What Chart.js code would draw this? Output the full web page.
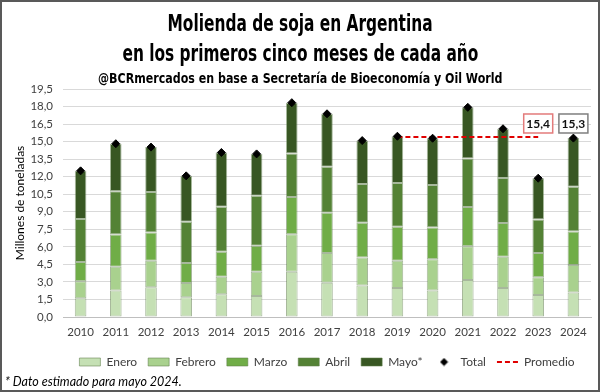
<!DOCTYPE html>
<html>
<head>
<meta charset="utf-8">
<script src="https://cdn.jsdelivr.net/npm/chart.js@4.4.1/dist/chart.umd.min.js"></script>
<style>
html, body { margin: 0; padding: 0; background: #fff; }
#wrap { position: relative; width: 600px; height: 392px; overflow: hidden; background: #fff; }
#chart { position: absolute; left: 0; top: 0; }
.t { position: absolute; left: 0; width: 600px; text-align: center; white-space: nowrap;
     font-family: "Liberation Sans Narrow", "DejaVu Sans Condensed", sans-serif; font-weight: bold; color: #000; }
.t span { display: inline-block; transform-origin: center; }
#nota { position: absolute; left: 5px; top: 374px; font: italic 12.5px Lato, sans-serif; color: #000; }
#marco { position: absolute; left: 0; top: 0; width: 600px; height: 392px; box-sizing: border-box;
         border: 2px solid #595959; pointer-events: none; }
</style>
</head>
<body>
<div id="wrap">
  <canvas id="chart" width="600" height="392"></canvas>
  <div class="t" style="top:11.5px;font-size:23px;line-height:23px"><span data-w="265">Molienda de soja en Argentina</span></div>
  <div class="t" style="top:41.5px;font-size:23px;line-height:23px"><span data-w="356">en los primeros cinco meses de cada año</span></div>
  <div class="t" style="top:71px;font-size:14.5px;line-height:14.5px"><span data-w="404">@BCRmercados en base a Secretaría de Bioeconomía y Oil World</span></div>
  <div id="nota">* Dato estimado para mayo 2024.</div>
  <div id="marco"></div>
</div>
<script>
// datos (millones de toneladas)
const anios = ['2010', '2011', '2012', '2013', '2014', '2015', '2016', '2017', '2018', '2019', '2020', '2021', '2022', '2023', '2024'];
const enero   = [1.60, 2.26, 2.55, 1.68, 1.94, 1.80, 3.86, 2.93, 2.70, 2.49, 2.26, 3.16, 2.49, 1.89, 2.09];
const febrero = [1.45, 2.03, 2.27, 1.22, 1.51, 2.06, 3.22, 2.55, 2.38, 2.33, 2.67, 2.90, 2.67, 1.50, 2.35];
const marzo   = [1.65, 2.76, 2.40, 1.71, 2.12, 2.23, 3.19, 3.43, 2.98, 2.90, 2.73, 3.34, 2.88, 2.09, 2.87];
const abril   = [3.68, 3.71, 3.48, 3.54, 3.86, 4.27, 3.71, 3.94, 3.31, 3.74, 3.62, 4.15, 3.85, 2.85, 3.83];
const mayo    = [4.12, 4.06, 3.83, 3.92, 4.64, 3.59, 4.35, 4.53, 3.72, 4.00, 4.01, 4.38, 4.21, 3.54, 4.16];
const total   = [12.50, 14.82, 14.53, 12.07, 14.07, 13.95, 18.33, 17.38, 15.09, 15.46, 15.29, 17.93, 16.10, 11.87, 15.30];
const promedio = [null, null, null, null, null, null, null, null, null, 15.4, 15.4, 15.4, 15.4, 15.4, null];
const yTicks = [0, 1.5, 3, 4.5, 6, 7.5, 9, 10.5, 12, 13.5, 15, 16.5, 18, 19.5];

// colores
const coloresMes = ['#C5E0B4', '#A9D18E', '#70AD47', '#548235', '#385723'];
const bordeBarra = 'rgba(95,125,75,0.55)';
const fuente = 'Lato, sans-serif';

const fmt = v => v.toFixed(1).replace('.', ',');

// ajustar ancho de los titulos
document.querySelectorAll('.t span').forEach(s => {
    const w = +s.dataset.w;
    s.style.transform = 'scaleX(' + (w / s.offsetWidth) + ')';
});

// rombo para la leyenda de Total
const rombo = document.createElement('canvas');
rombo.width = 9; rombo.height = 9;
(function () {
    const c = rombo.getContext('2d');
    c.fillStyle = '#000';
    c.beginPath();
    c.moveTo(4.5, 0.5); c.lineTo(8.5, 4.5); c.lineTo(4.5, 8.5); c.lineTo(0.5, 4.5);
    c.closePath(); c.fill();
})();

// etiquetas de promedio y total 2024
const etiquetasPlugin = {
    id: 'etiquetas',
    afterDatasetsDraw(chart) {
        const { ctx, scales: { x, y } } = chart;
        const items = [
            { i: 13, txt: fmt(promedio[13]), borde: '#E37B7B' },
            { i: 14, txt: fmt(total[14]), borde: '#7F7F7F' }
        ];
        const yc = y.getPixelForValue(16.55);
        ctx.save();
        ctx.font = 'bold 12px ' + fuente;
        ctx.textAlign = 'center';
        ctx.textBaseline = 'middle';
        items.forEach(it => {
            const xc = x.getPixelForValue(it.i);
            const w = 29, h = 19;
            ctx.fillStyle = '#fff';
            ctx.fillRect(xc - w / 2, yc - h / 2, w, h);
            ctx.strokeStyle = it.borde;
            ctx.lineWidth = 1.5;
            ctx.strokeRect(xc - w / 2, yc - h / 2, w, h);
            ctx.fillStyle = '#111';
            ctx.fillText(it.txt, xc, yc + 1);
        });
        ctx.restore();
    }
};

const meses = [
    ['Enero', enero], ['Febrero', febrero], ['Marzo', marzo], ['Abril', abril], ['Mayo*', mayo]
];

const datasets = meses.map(([nombre, valores], k) => ({
    type: 'bar',
    label: nombre,
    data: valores,
    backgroundColor: coloresMes[k],
    borderColor: bordeBarra,
    borderWidth: 1,
    borderSkipped: false,
    barPercentage: 0.33,
    categoryPercentage: 1,
    order: 1
}));

datasets.push({
    type: 'line',
    label: 'Total',
    data: total,
    showLine: false,
    pointStyle: 'rectRot',
    pointRadius: 4,
    pointBackgroundColor: '#000',
    pointBorderColor: '#000',
    borderColor: '#000',
    backgroundColor: '#000',
    stack: 'tot',
    order: 0
});

datasets.push({
    type: 'line',
    label: 'Promedio',
    data: promedio,
    borderColor: '#E00000',
    backgroundColor: '#E00000',
    borderWidth: 2,
    borderDash: [5, 3],
    pointRadius: 0,
    fill: false,
    spanGaps: false,
    stack: 'prom',
    order: 0
});

new Chart(document.getElementById('chart'), {
    data: { labels: anios, datasets: datasets },
    plugins: [etiquetasPlugin],
    options: {
        responsive: false,
        animation: false,
        layout: { padding: { top: 89, left: 8, right: 9, bottom: 14 } },
        plugins: {
            tooltip: { enabled: false },
            legend: {
                position: 'bottom',
                fullSize: false,
                labels: {
                    usePointStyle: true,
                    pointStyleWidth: 21,
                    boxHeight: 8,
                    padding: 11,
                    color: '#404040',
                    font: { family: fuente, size: 12 },
                    generateLabels(chart) {
                        return chart.data.datasets.map((ds, i) => {
                            let estilo = 'rect', dash = [], lw = 1, trazo = bordeBarra;
                            if (ds.label === 'Total') { estilo = rombo; lw = 0; trazo = '#000'; }
                            if (ds.label === 'Promedio') { estilo = 'line'; dash = [5, 3]; lw = 2; trazo = '#E00000'; }
                            return {
                                text: ds.label,
                                datasetIndex: i,
                                fillStyle: ds.backgroundColor,
                                strokeStyle: trazo,
                                lineWidth: lw,
                                lineDash: dash,
                                pointStyle: estilo,
                                fontColor: '#404040',
                                hidden: false
                            };
                        });
                    }
                }
            }
        },
        scales: {
            x: {
                stacked: true,
                grid: { display: false, drawTicks: false },
                border: { color: '#BFBFBF' },
                ticks: { color: '#404040', font: { family: fuente, size: 11.5 }, padding: 8, maxRotation: 0 },
                afterFit(s) { s.height = 28; }
            },
            y: {
                stacked: true,
                min: 0,
                max: 19.5,
                afterBuildTicks(s) { s.ticks = yTicks.map(v => ({ value: v })); },
                ticks: {
                    color: '#404040',
                    font: { family: fuente, size: 11.5 },
                    padding: 10,
                    callback: v => fmt(v)
                },
                grid: { color: '#D9D9D9', drawTicks: false },
                border: { display: false },
                title: {
                    display: true,
                    text: 'Millones de toneladas',
                    color: '#000',
                    font: { family: fuente, size: 12 },
                    padding: { top: 5, bottom: 0 }
                },
                afterFit(s) { s.width = 55; }
            }
        }
    }
});
</script>
</body>
</html>
